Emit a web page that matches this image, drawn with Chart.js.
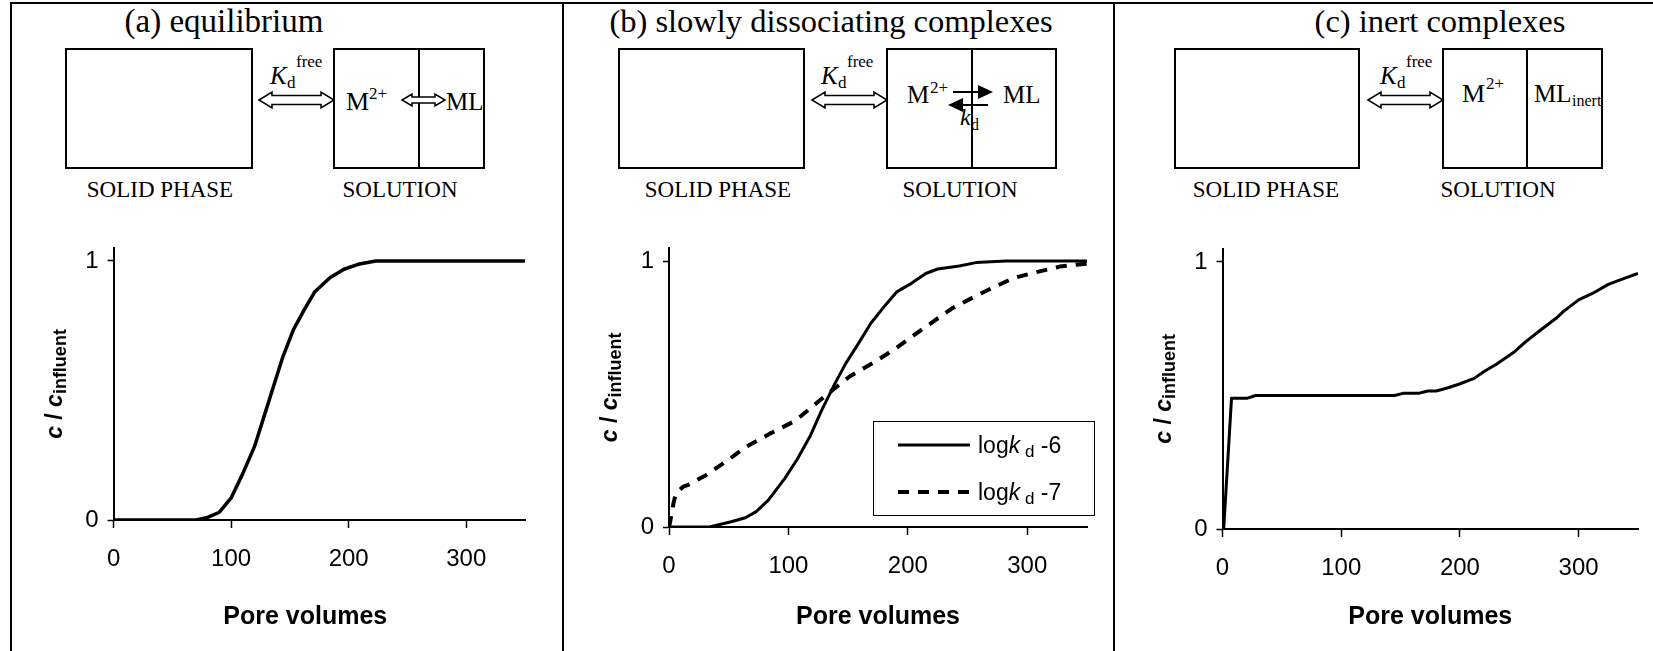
<!DOCTYPE html>
<html lang="en">
<head>
  <meta charset="UTF-8" />
  <title>Breakthrough curves: equilibrium, slowly dissociating and inert complexes</title>
  <script src="https://cdn.jsdelivr.net/npm/chart.js"></script>
  <style>
    html, body { margin: 0; padding: 0; background: #fff; }
    body { width: 1653px; height: 651px; position: relative; overflow: hidden; }
    #diagram { position: absolute; left: 0; top: 0; }
    .panel { position: absolute; top: 220px; height: 431px; }
  </style>
</head>
<body>

  <!-- Schemes above the charts -->
  <svg id="diagram" width="1653" height="651" font-family="'Liberation Serif', 'Times New Roman', serif"></svg>

  <!-- Charts -->
  <div class="panel" style="left:20px;width:520px;"><canvas id="chartA"></canvas></div>
  <div class="panel" style="left:575px;width:530px;"><canvas id="chartB"></canvas></div>
  <div class="panel" style="left:1125px;width:527px;"><canvas id="chartC"></canvas></div>

  <script>
    const xTicks = [0, 100, 200, 300];
    const yTicks = [0, 1];

    // (a) equilibrium
    const poreA = [0, 70, 80, 90, 100, 110, 120, 128, 136, 144, 153, 162, 171, 184, 196, 208, 223, 350];
    const concA = [0, 0, 0.01, 0.03, 0.085, 0.18, 0.285, 0.40, 0.515, 0.63, 0.735, 0.81, 0.88, 0.935, 0.968, 0.987, 1, 1];

    // (b) slowly dissociating complexes, log kd -6 and -7
    const poreB6 = [0, 34, 52, 64, 73, 83, 97, 107, 118, 128, 139, 148, 157, 169, 179, 191, 203, 215, 225, 243, 257, 282, 350];
    const concB6 = [0, 0, 0.02, 0.035, 0.058, 0.10, 0.183, 0.252, 0.34, 0.44, 0.54, 0.615, 0.678, 0.766, 0.822, 0.885, 0.916, 0.953, 0.97, 0.981, 0.994, 1, 1];
    const poreB7 = [0, 1, 4, 6, 12, 16, 31, 49, 64, 85, 106, 130, 151, 172, 190, 211, 237, 261, 288, 303, 327, 350];
    const concB7 = [0, 0.02, 0.095, 0.127, 0.152, 0.158, 0.195, 0.25, 0.30, 0.352, 0.40, 0.49, 0.565, 0.62, 0.672, 0.74, 0.822, 0.878, 0.935, 0.953, 0.979, 0.99];
    const kdLabels = ['-6', '-7'];

    // (c) inert complexes
    const poreC = [1, 7.6, 21, 28, 145, 152, 165, 173, 180, 190, 199, 212, 220, 231, 246, 255, 268, 281, 287, 300, 312, 325, 335, 350];
    const concC = [0, 0.49, 0.49, 0.50, 0.50, 0.508, 0.508, 0.517, 0.517, 0.529, 0.542, 0.564, 0.589, 0.618, 0.664, 0.70, 0.745, 0.789, 0.814, 0.858, 0.883, 0.916, 0.933, 0.957];

    const SANS = '"Liberation Sans", Arial, sans-serif';
    Chart.defaults.font.family = SANS;
    Chart.defaults.color = '#000';

    // ---------- scheme drawing (SVG) ----------
    const svgNS = 'http://www.w3.org/2000/svg';
    const svg = document.getElementById('diagram');
    function add(tag, attrs, text) {
      const el = document.createElementNS(svgNS, tag);
      for (const k in attrs) el.setAttribute(k, attrs[k]);
      if (text !== undefined) el.textContent = text;
      svg.appendChild(el);
      return el;
    }
    function line(x1, y1, x2, y2, w) {
      add('line', { x1, y1, x2, y2, stroke: '#000', 'stroke-width': w || 2 });
    }
    function rect(x1, y1, x2, y2) {
      add('rect', { x: x1, y: y1, width: x2 - x1, height: y2 - y1, fill: 'none', stroke: '#000', 'stroke-width': 2 });
    }
    function txt(x, y, s, size, extra) {
      return add('text', Object.assign({ x, y, 'font-size': size, fill: '#000' }, extra || {}), s);
    }
    function hollowArrow(x1, x2, cy, hh, sh, hl) {
      const p = [
        [x1, cy], [x1 + hl, cy - hh], [x1 + hl, cy - sh], [x2 - hl, cy - sh], [x2 - hl, cy - hh],
        [x2, cy], [x2 - hl, cy + hh], [x2 - hl, cy + sh], [x1 + hl, cy + sh], [x1 + hl, cy + hh]
      ];
      add('polygon', { points: p.map(q => q.join(',')).join(' '), fill: '#fff', stroke: '#000', 'stroke-width': 1.5 });
    }
    function kdFree(x) {
      txt(x, 84, 'K', 25, { 'font-style': 'italic' });
      txt(x + 17, 88, 'd', 17);
      txt(x + 26, 67, 'free', 17);
    }

    // outer frame and panel dividers
    line(10, 3, 1653, 3);
    line(11, 3, 11, 651);
    line(563, 3, 563, 651);
    line(1114, 3, 1114, 651);

    // (a)
    txt(224, 32, '(a) equilibrium', 33, { 'text-anchor': 'middle' });
    rect(66, 49, 252, 168);
    rect(334, 49, 484, 168);
    line(419, 49, 419, 168);
    hollowArrow(259, 334, 100, 8, 4.5, 13);
    kdFree(270);
    txt(346, 110, 'M', 26);
    txt(369, 99, '2+', 17);
    hollowArrow(402, 445, 100, 6, 3, 10);
    txt(446, 110, 'ML', 25);
    txt(160, 197, 'SOLID PHASE', 23, { 'text-anchor': 'middle' });
    txt(400, 197, 'SOLUTION', 23, { 'text-anchor': 'middle' });

    // (b)
    txt(831, 32, '(b) slowly dissociating complexes', 32.5, { 'text-anchor': 'middle' });
    rect(619, 49, 804, 168);
    rect(887, 49, 1056, 168);
    line(972, 49, 972, 168);
    hollowArrow(812, 887, 100, 8, 4.5, 13);
    kdFree(821);
    txt(907, 103, 'M', 25);
    txt(930, 93, '2+', 17);
    line(953, 92, 980, 92);
    add('polygon', { points: '978,85 993,92 978,99', fill: '#000' });
    add('polygon', { points: '963,98 948,105 963,112', fill: '#000' });
    line(961, 105, 988, 105);
    txt(960, 125, 'k', 24, { 'font-style': 'italic' });
    txt(971, 130, 'd', 16);
    txt(1003, 103, 'ML', 25);
    txt(718, 197, 'SOLID PHASE', 23, { 'text-anchor': 'middle' });
    txt(960, 197, 'SOLUTION', 23, { 'text-anchor': 'middle' });

    // (c)
    txt(1440, 32, '(c) inert complexes', 32.5, { 'text-anchor': 'middle' });
    rect(1175, 49, 1359, 168);
    rect(1443, 49, 1602, 168);
    line(1527, 49, 1527, 168);
    hollowArrow(1368, 1443, 100, 8, 4.5, 13);
    kdFree(1380);
    txt(1462, 102, 'M', 26);
    txt(1486, 89, '2+', 17);
    txt(1534, 102, 'ML', 25);
    txt(1572, 106, 'inert', 16);
    txt(1266, 197, 'SOLID PHASE', 23, { 'text-anchor': 'middle' });
    txt(1498, 197, 'SOLUTION', 23, { 'text-anchor': 'middle' });

    // ---------- chart plugins ----------
    // axis titles: "Pore volumes" and "c / c_influent" (italic c, subscript)
    const axisTitlesPlugin = {
      id: 'axisTitles',
      afterDraw(chart, args, opts) {
        const { ctx, chartArea } = chart;
        ctx.save();
        ctx.fillStyle = '#000';

        ctx.font = 'bold 25px ' + SANS;
        ctx.textAlign = 'center';
        ctx.textBaseline = 'middle';
        ctx.fillText('Pore volumes', (chartArea.left + chartArea.right) / 2 + (opts.dx || 0), chart.height - 34);

        const parts = [
          { t: 'c', f: 'italic bold 23px ' + SANS, dy: 0 },
          { t: ' / ', f: 'bold 23px ' + SANS, dy: 0 },
          { t: 'c', f: 'italic bold 23px ' + SANS, dy: 0 },
          { t: 'influent', f: 'bold 18px ' + SANS, dy: 4 }
        ];
        let total = 0;
        parts.forEach(p => { ctx.font = p.f; p.w = ctx.measureText(p.t).width; total += p.w; });
        ctx.translate(chartArea.left - 52, (chartArea.top + chartArea.bottom) / 2);
        ctx.rotate(-Math.PI / 2);
        ctx.textAlign = 'left';
        ctx.textBaseline = 'alphabetic';
        let x = -total / 2;
        parts.forEach(p => { ctx.font = p.f; ctx.fillText(p.t, x, p.dy); x += p.w; });
        ctx.restore();
      }
    };

    // legend with "log k_d" labels
    const kdLegendPlugin = {
      id: 'kdLegend',
      afterDraw(chart, args, opts) {
        if (!opts.show) return;
        const { ctx, chartArea } = chart;
        const w = 221, h = 94;
        const x0 = Math.round(chartArea.right + 7 - w), y0 = Math.round(chartArea.bottom - 12 - h);
        ctx.save();
        ctx.fillStyle = '#fff';
        ctx.fillRect(x0, y0, w, h);
        ctx.strokeStyle = '#000';
        ctx.lineWidth = 1;
        ctx.strokeRect(x0 + 0.5, y0 + 0.5, w, h);
        chart.data.datasets.forEach((ds, i) => {
          const cy = y0 + 24 + i * 47;
          ctx.beginPath();
          ctx.setLineDash(ds.borderDash || []);
          ctx.lineWidth = ds.borderWidth;
          ctx.moveTo(x0 + 25, cy);
          ctx.lineTo(x0 + 97, cy);
          ctx.stroke();
          ctx.setLineDash([]);
          ctx.fillStyle = '#000';
          ctx.textBaseline = 'alphabetic';
          let tx = x0 + 105;
          const base = cy + 8;
          const parts = [
            { t: 'log', f: '23px ' + SANS, dy: 0 },
            { t: 'k', f: 'italic 23px ' + SANS, dy: 0 },
            { t: ' d', f: '17px ' + SANS, dy: 4 },
            { t: ' ' + kdLabels[i], f: '23px ' + SANS, dy: 0 }
          ];
          parts.forEach(p => {
            ctx.font = p.f;
            ctx.fillText(p.t, tx, base + p.dy);
            tx += ctx.measureText(p.t).width;
          });
        });
        ctx.restore();
      }
    };

    function points(xs, ys) {
      return xs.map((x, i) => ({ x: x, y: ys[i] }));
    }

    function makeChart(id, datasets, g) {
      return new Chart(document.getElementById(id), {
        type: 'line',
        data: { datasets: datasets },
        plugins: [axisTitlesPlugin, kdLegendPlugin],
        options: {
          responsive: true,
          maintainAspectRatio: false,
          animation: false,
          layout: { padding: { top: g.padTop, right: g.padRight, left: 0, bottom: 0 } },
          elements: { point: { radius: 0 }, line: { tension: 0, borderJoinStyle: 'round' } },
          plugins: {
            legend: { display: false },
            tooltip: { enabled: false },
            axisTitles: { dx: g.titleDx || 0 },
            kdLegend: { show: !!g.legend }
          },
          scales: {
            x: {
              type: 'linear',
              min: 0,
              max: 350,
              afterBuildTicks: s => { s.ticks = xTicks.map(v => ({ value: v })); },
              afterFit: s => { s.height = g.xHeight; },
              grid: { drawOnChartArea: false, tickLength: 8, color: '#000', tickWidth: 1.5 },
              border: { color: '#000', width: 2 },
              ticks: { font: { size: 24 }, padding: 17, maxRotation: 0, color: '#000' }
            },
            y: {
              min: 0,
              max: 1.05,
              afterBuildTicks: s => { s.ticks = yTicks.map(v => ({ value: v })); },
              afterFit: s => { s.width = g.yWidth; },
              grid: { drawOnChartArea: false, tickLength: 6, color: '#000', tickWidth: 1.5 },
              border: { color: '#000', width: 2 },
              ticks: { font: { size: 24 }, padding: 9, color: '#000' }
            }
          }
        }
      });
    }

    makeChart('chartA', [
      { label: 'equilibrium', data: points(poreA, concA), borderColor: '#000', borderWidth: 3.5 }
    ], { yWidth: 93.6, padRight: 15, padTop: 28, xHeight: 131, titleDx: -14 });

    makeChart('chartB', [
      { label: 'log kd ' + kdLabels[0], data: points(poreB6, concB6), borderColor: '#000', borderWidth: 3 },
      { label: 'log kd ' + kdLabels[1], data: points(poreB7, concB7), borderColor: '#000', borderWidth: 4, borderDash: [11, 9] }
    ], { yWidth: 94, padRight: 18, padTop: 27.7, xHeight: 124, legend: true });

    makeChart('chartC', [
      { label: 'inert complexes', data: points(poreC, concC), borderColor: '#000', borderWidth: 3 }
    ], { yWidth: 97.5, padRight: 14, padTop: 28.6, xHeight: 122 });
  </script>

</body>
</html>
